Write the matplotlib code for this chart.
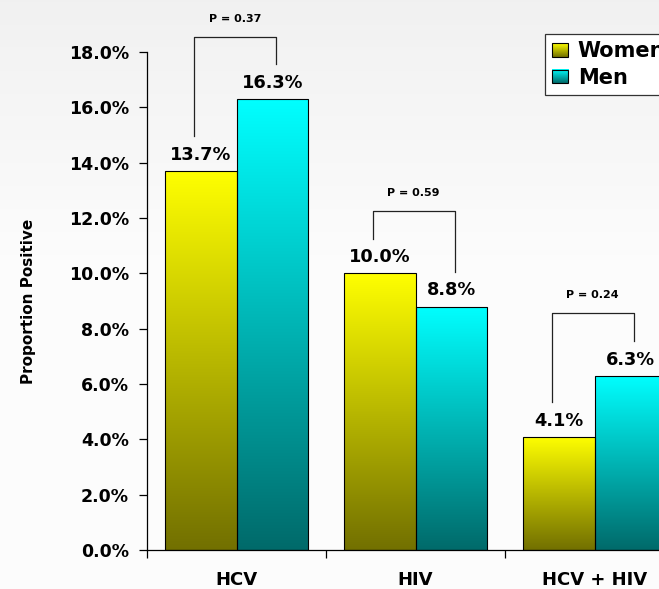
import numpy as np
import matplotlib
matplotlib.use("Agg")
import matplotlib.pyplot as plt
from matplotlib.legend_handler import HandlerBase
from matplotlib.image import BboxImage
from matplotlib.transforms import Bbox, TransformedBbox
from matplotlib.patches import Rectangle

categories = ['HCV', 'HIV', 'HCV + HIV']
women = [13.7, 10.0, 4.1]
men = [16.3, 8.8, 6.3]
p_values = ['0.37', '0.59', '0.24']
yticks = [0, 2, 4, 6, 8, 10, 12, 14, 16, 18]

WOMEN_TOP, WOMEN_BOT = '#ffff00', '#727000'
MEN_TOP, MEN_BOT = '#00ffff', '#006a6a'


def gradient(top, bottom, n=256):
    t = np.linspace(0, 1, n)[:, None]
    c0 = np.array(matplotlib.colors.to_rgb(bottom))
    c1 = np.array(matplotlib.colors.to_rgb(top))
    return (c0 + (c1 - c0) * t)[:, None, :]  # row 0 = bottom


class GradientHandler(HandlerBase):
    def __init__(self, top, bottom):
        super().__init__()
        self.grad = gradient(top, bottom)[::-1]

    def create_artists(self, legend, orig_handle, xdescent, ydescent,
                       width, height, fontsize, trans):
        bb = TransformedBbox(Bbox.from_bounds(-xdescent, -ydescent, width, height), trans)
        img = BboxImage(bb, interpolation='bilinear')
        img.set_data(self.grad)
        rect = Rectangle((-xdescent, -ydescent), width, height, facecolor='none',
                         edgecolor='black', lw=0.8, transform=trans)
        return [img, rect]


fig = plt.figure(figsize=(6.59, 5.89), dpi=100)

# very light grey-to-white background
bg = fig.add_axes([0, 0, 1, 1], zorder=-10)
t = np.clip(np.linspace(0, 1, 300) / 0.45, 0, 1)[:, None]
shade = 0.945 + (0.99 - 0.945) * t
bg.imshow(np.dstack([shade, shade, shade]), aspect='auto', extent=[0, 1, 0, 1],
          origin='upper', vmin=0, vmax=1)
bg.axis('off')

ax = fig.add_axes([147 / 659, 39 / 589, 537 / 659, 498 / 589])
ax.set_facecolor('none')

x = np.arange(len(categories))
w = 0.4
bars_w = ax.bar(x - w / 2, women, w, facecolor='none', edgecolor='black', lw=0.8, zorder=3, label='Women')
bars_m = ax.bar(x + w / 2, men, w, facecolor='none', edgecolor='black', lw=0.8, zorder=3, label='Men')

for bars, top, bot in [(bars_w, WOMEN_TOP, WOMEN_BOT), (bars_m, MEN_TOP, MEN_BOT)]:
    g = gradient(top, bot)
    for b in bars:
        x0, h = b.get_x(), b.get_height()
        im = ax.imshow(g, extent=[x0, x0 + b.get_width(), 0, h], origin='lower',
                       aspect='auto', zorder=2, interpolation='bilinear')
        im.set_clip_path(b)

# value labels
for bars in (bars_w, bars_m):
    for b in bars:
        ax.text(b.get_x() + b.get_width() / 2, b.get_height() + 0.4, f'{b.get_height():.1f}%',
                ha='center', va='baseline', fontsize=12.8, fontweight='bold', zorder=4)

# p-value brackets
for i, p in enumerate(p_values):
    xl, xr = i - 0.24, i + 0.22
    top = max(women[i], men[i]) + 2.25
    ax.plot([xl, xl, xr, xr], [women[i] + 1.25, top, top, men[i] + 1.25],
            color='#222222', lw=0.9, clip_on=False, zorder=4)
    ax.text((xl + xr) / 2, top + 0.65, f'P = {p}', ha='center', va='center',
            fontsize=8, fontweight='bold')

ax.set_xlim(-0.5, 2.5)
ax.set_ylim(0, 18)
ax.set_yticks(yticks)
ax.set_yticklabels([f'{v:.1f}%' for v in yticks], fontsize=12.5, fontweight='bold')
ax.tick_params(axis='y', length=6, width=0.9, pad=7)
ax.set_xticks(x)
ax.set_xticklabels(categories, fontsize=13, fontweight='bold')
ax.set_xticks([-0.5, 0.5, 1.5, 2.5], minor=True)
ax.tick_params(axis='x', which='major', length=0, pad=15)
ax.tick_params(axis='x', which='minor', length=6, width=0.9)
for s in ('top', 'right'):
    ax.spines[s].set_visible(False)
for s in ('left', 'bottom'):
    ax.spines[s].set_linewidth(0.9)

ax.set_ylabel('Proportion Positive', fontsize=11, fontweight='bold')
ax.yaxis.set_label_coords(-0.206, 0.5)

leg = ax.legend(handler_map={bars_w: GradientHandler(WOMEN_TOP, WOMEN_BOT),
                             bars_m: GradientHandler(MEN_TOP, MEN_BOT)},
                loc='upper left', bbox_to_anchor=(545 / 659, 1 - 34 / 589),
                bbox_transform=fig.transFigure, borderaxespad=0,
                prop={'size': 15, 'weight': 'bold'}, fancybox=False,
                handlelength=0.77, handleheight=0.6, handletextpad=0.45,
                labelspacing=0.3, borderpad=0.35, framealpha=1)
leg.get_frame().set_edgecolor('#333333')
leg.get_frame().set_linewidth(0.9)

fig.savefig('out.png', dpi=100)
